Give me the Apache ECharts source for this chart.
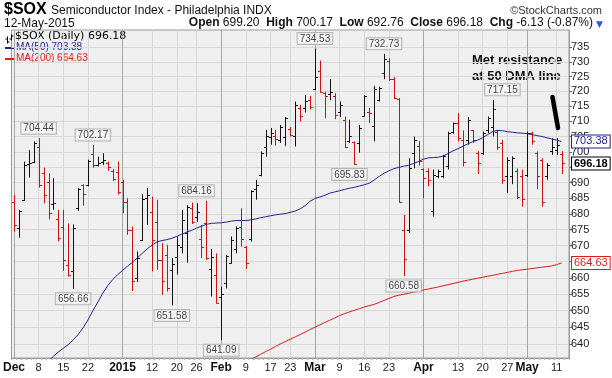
<!DOCTYPE html>
<html>
<head>
<meta charset="utf-8">
<script src="https://cdn.jsdelivr.net/npm/echarts@6/dist/echarts.min.js"></script>
<style>
html, body { margin: 0; padding: 0; background: #fff; }
#chart { width: 612px; height: 378px; }
</style>
</head>
<body>
<div id="chart"></div>
<script>
// trading days Dec 2014 - May 2015
var dates = [
  '12/1','12/2','12/3','12/4','12/5','12/8','12/9','12/10','12/11','12/12','12/15','12/16','12/17','12/18','12/19','12/22','12/23','12/24','12/26','12/29','12/30','12/31',
  '1/2','1/5','1/6','1/7','1/8','1/9','1/12','1/13','1/14','1/15','1/16','1/20','1/21','1/22','1/23','1/26','1/27','1/28','1/29','1/30',
  '2/2','2/3','2/4','2/5','2/6','2/9','2/10','2/11','2/12','2/13','2/17','2/18','2/19','2/20','2/23','2/24','2/25','2/26','2/27',
  '3/2','3/3','3/4','3/5','3/6','3/9','3/10','3/11','3/12','3/13','3/16','3/17','3/18','3/19','3/20','3/23','3/24','3/25','3/26','3/27','3/30','3/31',
  '4/1','4/2','4/6','4/7','4/8','4/9','4/10','4/13','4/14','4/15','4/16','4/17','4/20','4/21','4/22','4/23','4/24','4/27','4/28','4/29','4/30',
  '5/1','5/4','5/5','5/6','5/7','5/8','5/11','5/12'
];
var opens = [
  683.7,675.7,684.5,696.0,696.8,701.7,693.0,690.1,683.0,678.4,676.0,664.0,662.2,681.8,689.1,689.3,699.2,695.7,696.8,696.3,693.8,693.4,
  690.1,683.9,674.9,660.1,671.8,685.2,680.7,677.5,665.6,667.1,662.5,666.6,669.7,673.9,681.8,679.1,672.0,677.0,662.8,661.0,
  654.3,658.3,664.6,668.9,676.0,669.5,672.0,687.8,692.5,701.7,704.8,705.2,703.9,704.8,707.5,705.0,714.4,714.4,717.2,
  720.7,726.7,719.4,719.2,718.5,713.2,710.5,703.4,703.1,702.9,711.8,713.2,708.5,717.2,726.2,730.4,724.1,717.4,674.9,675.0,699.5,702.0,
  694.3,693.6,681.0,692.0,692.0,695.4,706.6,709.4,704.0,703.9,707.0,699.5,699.5,707.2,708.0,706.6,702.9,692.0,692.0,693.6,692.0,
  692.5,706.1,699.5,697.4,692.0,700.1,700.5,699.2
];
var highs = [
  686.1,681.3,696.8,700.6,703.4,704.44,694.8,693.0,691.4,681.3,681.3,677.0,676.7,688.3,689.5,697.4,702.17,698.4,699.5,696.8,694.4,696.8,
  690.9,685.0,676.0,668.2,686.3,688.3,685.5,684.5,670.8,670.3,666.1,672.9,681.3,682.8,683.6,683.4,676.5,684.16,668.9,667.6,
  657.3,667.1,672.9,676.0,681.8,669.9,687.5,690.9,700.1,707.2,707.8,707.2,708.8,711.4,708.1,716.6,715.5,718.8,718.5,
  734.53,730.4,719.9,724.1,719.4,716.6,711.6,710.5,703.4,708.8,718.8,714.4,721.8,721.6,732.73,731.2,724.8,717.8,679.7,697.9,705.0,703.5,
  694.6,694.6,694.2,694.2,699.0,706.6,709.6,712.7,707.0,711.4,707.2,700.1,706.6,711.6,717.15,707.2,703.9,698.2,698.5,694.6,694.2,
  706.6,706.6,700.1,697.9,696.3,704.4,704.5,700.17
];
var lows = [
  674.4,672.5,684.1,691.6,696.3,688.4,683.4,678.3,681.3,671.3,662.2,660.4,656.66,681.0,682.6,688.8,694.8,695.2,695.7,693.8,690.5,686.1,
  680.2,673.4,656.0,658.7,671.5,676.5,662.0,662.5,654.8,655.8,651.58,661.0,667.6,664.7,676.8,677.5,666.1,665.6,654.3,652.2,
  641.09,656.8,664.4,667.6,669.7,662.8,671.3,684.5,692.0,698.4,702.3,702.0,702.9,701.9,705.0,701.7,709.9,713.0,713.9,
  720.5,719.6,711.0,717.0,710.7,711.4,701.2,702.9,695.83,699.7,711.6,709.4,703.4,716.6,724.1,723.6,717.4,683.6,660.58,673.9,694.6,695.5,
  685.0,688.8,679.2,691.4,691.4,694.2,705.9,703.4,695.2,702.3,702.9,692.8,699.0,706.1,705.0,700.6,689.6,686.6,689.5,684.7,682.3,
  691.8,702.3,687.9,682.3,690.9,699.0,699.0,692.76
];
var closes = [
  676.5,681.0,695.7,696.3,702.8,689.3,686.1,680.2,683.4,672.3,665.6,661.0,675.7,688.0,686.3,697.0,695.7,696.3,697.4,695.2,691.2,686.9,
  683.7,674.9,658.9,666.3,684.8,686.1,671.8,665.6,658.9,656.8,664.4,670.3,678.1,682.3,677.5,680.7,669.7,666.1,666.6,652.4,
  655.1,666.8,671.8,675.5,672.0,664.7,687.2,689.3,699.5,705.0,706.1,704.1,708.1,711.1,705.5,715.5,711.8,716.6,714.7,
  725.0,719.9,718.3,719.9,712.1,715.5,701.7,705.0,696.0,707.8,718.3,712.9,720.7,721.1,730.9,724.1,717.8,683.9,665.8,694.6,703.9,697.0,
  691.4,690.9,692.5,693.6,698.7,706.1,709.4,704.4,696.5,710.5,703.9,696.3,706.1,711.0,714.0,701.7,690.9,697.4,698.0,685.5,684.8,
  706.1,703.4,692.0,683.9,695.7,701.5,702.31,696.18
];
var ma50 = [
  null,null,null,null,null,null,633.8,635.0,636.3,637.6,638.7,639.8,641.2,642.8,644.8,647.2,650.0,652.6,655.3,657.6,659.5,661.0,
  662.3,663.6,664.8,666.2,667.6,669.0,670.2,671.2,671.6,671.9,672.3,672.9,673.6,674.2,674.8,675.5,676.1,676.7,677.0,677.1,
  677.2,677.4,677.7,677.9,677.9,677.9,678.1,678.4,678.8,679.1,679.4,679.7,679.9,680.1,680.5,680.9,681.6,682.6,684.0,
  684.9,685.4,685.9,686.6,687.0,687.4,687.8,688.2,688.5,688.9,689.3,689.8,690.8,692.0,693.0,693.8,694.5,694.9,695.3,695.6,696.2,696.8,
  697.6,698.0,698.1,698.2,698.6,699.4,700.3,701.0,701.8,702.6,703.3,703.8,704.6,705.6,706.6,707.0,706.9,706.6,706.4,706.2,706.1,
  705.9,705.6,705.3,705.0,704.6,704.2,703.8,703.38
];
var ma200 = [
  null,null,null,null,null,null,null,null,null,null,null,null,null,null,null,null,null,null,null,null,null,null,
  null,null,null,null,null,null,null,null,null,null,null,null,null,null,null,null,null,null,null,null,
  null,null,null,null,633.7,634.5,635.3,636.1,636.9,637.7,638.4,639.2,640.0,640.7,641.4,642.1,642.8,643.5,644.3,
  645.0,645.7,646.4,647.1,647.8,648.5,649.1,649.6,650.1,650.6,651.1,651.5,651.9,652.5,653.1,653.7,654.3,654.7,655.0,655.3,655.6,655.9,
  656.3,656.6,656.9,657.2,657.6,657.9,658.3,658.6,659.0,659.3,659.6,659.9,660.2,660.5,660.8,661.1,661.4,661.7,662.0,662.3,662.5,
  662.7,662.9,663.1,663.3,663.5,663.7,664.1,664.63
];
var peakDates = ['12/8', '12/23', '1/26', '3/2', '3/20', '4/24'];
var peakValues = [704.44, 702.17, 684.16, 734.53, 732.73, 717.15];
var troughDates = ['12/17', '1/16', '2/2', '3/11', '3/26'];
var troughValues = [656.66, 651.58, 641.09, 695.83, 660.58];
var xTickDates = ['12/1','12/8','12/15','12/22','1/2','1/12','1/20','1/26','2/2','2/9','2/17','2/23','3/2','3/9','3/16','3/23','4/1','4/13','4/20','4/27','5/1','5/11'];
var xTickLabels = ['Dec','8','15','22','2015','12','20','26','Feb','9','17','23','Mar','9','16','23','Apr','13','20','27','May','11'];
var monthDates = ['12/1','1/2','2/2','3/2','4/1','5/1'];
var yTicks = [640,645,650,655,660,665,670,675,680,685,690,695,700,705,710,715,720,725,730,735];

var BLUE = '#23238c';
var RED = '#d81c1c';
var BAR_RED = '#cc1111';
var CLEAR = 'rgba(0,0,0,0)';

var ohlc = dates.map(function (d, i) {
  var prev = i > 0 ? closes[i - 1] : opens[i];
  return [i, opens[i], highs[i], lows[i], closes[i], closes[i] >= prev ? 1 : 0];
});

function renderBar(params, api) {
  var i = api.value(0);
  var o = api.coord([i, api.value(1)]);
  var h = api.coord([i, api.value(2)]);
  var l = api.coord([i, api.value(3)]);
  var c = api.coord([i, api.value(4)]);
  var color = api.value(5) > 0 ? '#111' : BAR_RED;
  var x = Math.round(h[0]) + 0.5;
  var oy = Math.round(o[1]) + 0.5;
  var cy = Math.round(c[1]) + 0.5;
  var st = { stroke: color, lineWidth: 1 };
  return {
    type: 'group',
    children: [
      { type: 'line', shape: { x1: x, y1: h[1], x2: x, y2: l[1] }, style: st },
      { type: 'line', shape: { x1: x - 2.5, y1: oy, x2: x, y2: oy }, style: st },
      { type: 'line', shape: { x1: x, y1: cy, x2: x + 2.5, y2: cy }, style: st }
    ]
  };
}

// value tag on the right axis
function priceTag(value, color, bold) {
  return {
    silent: true,
    symbol: ['none', 'none'],
    lineStyle: { color: CLEAR, width: 1, type: 'solid' },
    label: {
      show: true, position: 'end', distance: 3,
      formatter: value.toFixed(2),
      color: color, fontSize: 11, fontFamily: 'Liberation Sans',
      fontWeight: bold ? 'bold' : 'normal',
      backgroundColor: '#fff', borderColor: color, borderWidth: 1,
      padding: [1, 2, 0, 2]
    },
    data: [{ yAxis: value }],
    z: 10
  };
}

function boxLabel(pos) {
  return {
    show: true, position: pos, distance: 4,
    formatter: function (p) { return p.value[1].toFixed(2); },
    color: '#111', fontSize: 10, fontFamily: 'Liberation Sans',
    backgroundColor: '#f6f6f6', borderColor: '#a8a8a8', borderWidth: 1,
    padding: [1, 2, 0, 2]
  };
}

var chart = echarts.init(document.getElementById('chart'));

var option = {
  animation: false,
  backgroundColor: '#fff',
  grid: {
    left: 4, right: 43, top: 30, bottom: 20,
    show: true, backgroundColor: '#efefef', borderColor: '#9a9a9a', borderWidth: 1
  },
  xAxis: {
    type: 'category',
    data: dates.concat(['']),
    boundaryGap: true,
    axisLine: { show: true, lineStyle: { color: '#9a9a9a' } },
    axisTick: { show: true, interval: 0, length: 2, lineStyle: { color: '#b0b0b0' } },
    splitLine: { show: false },
    axisLabel: {
      margin: 4,
      interval: function (idx, val) { return xTickDates.indexOf(val) >= 0; },
      formatter: function (val) {
        var k = xTickDates.indexOf(val);
        if (k < 0) return '';
        return monthDates.indexOf(val) >= 0 ? '{m|' + xTickLabels[k] + '}' : '{d|' + xTickLabels[k] + '}';
      },
      rich: {
        m: { fontFamily: 'Liberation Sans', fontWeight: 'bold', fontSize: 12, color: '#111' },
        d: { fontFamily: 'Liberation Sans', fontSize: 11, color: '#222' }
      }
    }
  },
  yAxis: {
    type: 'log',
    logBase: 10,
    position: 'right',
    min: 635.8,
    max: 740.9,
    axisLine: { show: true, lineStyle: { color: '#9a9a9a' } },
    axisTick: { show: true, customValues: yTicks, length: 3, lineStyle: { color: '#666' } },
    axisLabel: {
      customValues: yTicks, margin: 2,
      color: '#222', fontSize: 11, fontFamily: 'Liberation Sans',
      formatter: function (v) { return String(Math.round(v)); }
    },
    splitLine: { show: true, lineStyle: { color: '#d9d9d9' } }
  },
  series: [
    {
      name: 'gridlines',
      type: 'line',
      data: [],
      silent: true,
      markLine: {
        silent: true,
        symbol: ['none', 'none'],
        z: 1,
        label: { show: false },
        data: xTickDates.map(function (d) {
          return {
            xAxis: d,
            lineStyle: { color: monthDates.indexOf(d) >= 0 ? '#a6a6a6' : '#d6d6d6', width: 1, type: 'solid' }
          };
        })
      }
    },
    {
      name: '$SOX (Daily) 696.18',
      type: 'custom',
      renderItem: renderBar,
      data: ohlc,
      encode: { x: 0, y: [1, 2, 3, 4] },
      itemStyle: { color: '#111' },
      clip: true,
      z: 2,
      markLine: priceTag(closes[closes.length - 1], '#000', true)
    },
    {
      name: 'MA(50) 703.38',
      type: 'line',
      data: ma50,
      symbol: 'none',
      clip: true,
      lineStyle: { color: BLUE, width: 1 },
      z: 3,
      markLine: priceTag(ma50[ma50.length - 1], BLUE, false)
    },
    {
      name: 'MA(200) 664.63',
      type: 'line',
      data: ma200,
      symbol: 'none',
      clip: true,
      lineStyle: { color: RED, width: 1 },
      z: 3,
      markLine: priceTag(ma200[ma200.length - 1], RED, false)
    },
    {
      name: 'peaks',
      type: 'scatter',
      data: peakDates.map(function (d, k) { return [d, peakValues[k]]; }),
      symbolSize: 1,
      itemStyle: { color: CLEAR },
      label: boxLabel('top'),
      z: 5
    },
    {
      name: 'troughs',
      type: 'scatter',
      data: troughDates.map(function (d, k) { return [d, troughValues[k]]; }),
      symbolSize: 1,
      itemStyle: { color: CLEAR },
      label: boxLabel('bottom'),
      z: 5
    }
  ],
  graphic: [
    { type: 'text', left: 4, top: 2, style: { text: '$SOX', font: 'bold 16px "Liberation Sans"', fill: '#000' } },
    { type: 'text', left: 51, top: 5, style: { text: 'Semiconductor Index - Philadelphia INDX', font: '12px "Liberation Sans Narrow", "Liberation Sans"', fill: '#111' } },
    { type: 'text', right: 10, top: 5, style: { text: '\u00a9StockCharts.com', font: '11px "Liberation Sans"', fill: '#333' } },
    { type: 'text', left: 4, top: 18, style: { text: '12-May-2015', font: '12px "Liberation Sans Narrow", "Liberation Sans"', fill: '#111' } },
    {
      type: 'text', right: 19, top: 17,
      style: {
        text: '{b|Open} 699.20  {b|High} 700.17  {b|Low} 692.76  {b|Close} 696.18  {b|Chg} -6.13 (-0.87%)',
        font: '12px "Liberation Sans Narrow", "Liberation Sans"', fill: '#111',
        rich: { b: { font: 'bold 12px "Liberation Sans"', fill: '#111' } }
      }
    },
    { type: 'text', right: 9, top: 20, style: { text: '\u25bc', font: '9px "DejaVu Sans"', fill: '#2a5bd7' } },
    // legend
    {
      type: 'group', left: 3, top: 32,
      children: [
        { type: 'line', shape: { x1: 3.5, y1: 2, x2: 3.5, y2: 9 }, style: { stroke: '#000', lineWidth: 1 } },
        { type: 'line', shape: { x1: 1.5, y1: 4.5, x2: 3.5, y2: 4.5 }, style: { stroke: '#000', lineWidth: 1 } },
        { type: 'line', shape: { x1: 3.5, y1: 7.5, x2: 5.5, y2: 7.5 }, style: { stroke: '#000', lineWidth: 1 } },
        { type: 'line', shape: { x1: 7.5, y1: 0, x2: 7.5, y2: 6 }, style: { stroke: '#000', lineWidth: 1 } },
        { type: 'line', shape: { x1: 5.5, y1: 4.5, x2: 7.5, y2: 4.5 }, style: { stroke: '#000', lineWidth: 1 } },
        { type: 'line', shape: { x1: 7.5, y1: 1.5, x2: 9.5, y2: 1.5 }, style: { stroke: '#000', lineWidth: 1 } }
      ]
    },
    { type: 'text', left: 15, top: 31, style: { text: '$SOX (Daily) 696.18', font: '11px "DejaVu Sans"', fill: '#000' } },
    { type: 'rect', left: 5, top: 47, shape: { width: 9, height: 2 }, style: { fill: BLUE } },
    { type: 'text', left: 16, top: 42, style: { text: 'MA(50) 703.38', font: '10px "Liberation Sans"', fill: BLUE } },
    { type: 'rect', left: 5, top: 58, shape: { width: 9, height: 2 }, style: { fill: RED } },
    { type: 'text', left: 16, top: 53, style: { text: 'MA(200) 664.63', font: '10px "Liberation Sans"', fill: RED } },
    // annotation
    { type: 'text', left: 472, top: 52, style: { text: 'Met resistance\nat 50 DMA line', font: 'bold 13px "Liberation Sans"', fill: '#111', lineHeight: 16 } },
    { type: 'line', shape: { x1: 552.5, y1: 97, x2: 558, y2: 128 }, style: { stroke: '#000', lineWidth: 4.5, lineCap: 'round' }, z: 20 }
  ]
};

chart.setOption(option);
</script>
</body>
</html>
